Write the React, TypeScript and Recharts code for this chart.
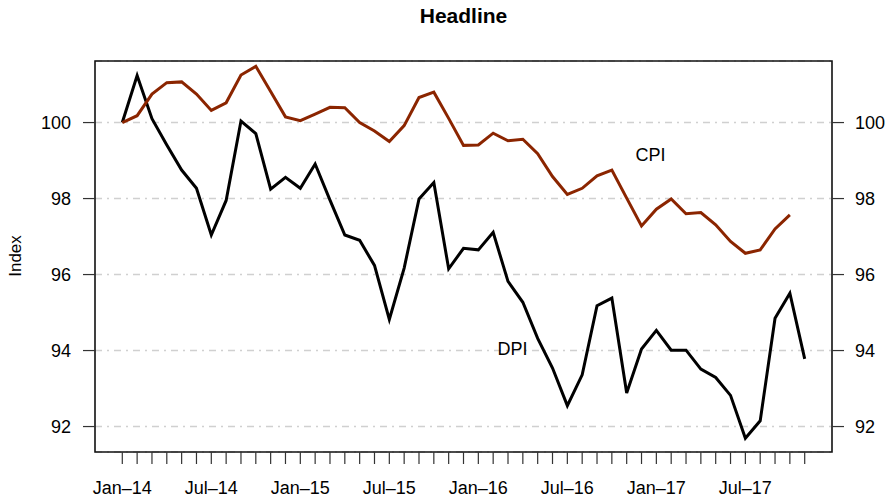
import {
  CartesianGrid,
  Line,
  LineChart,
  ReferenceArea,
  ReferenceDot,
  XAxis,
  YAxis,
} from 'recharts';

const months = [
  'Jan–14', 'Feb–14', 'Mar–14', 'Apr–14', 'May–14', 'Jun–14', 'Jul–14', 'Aug–14', 'Sep–14', 'Oct–14', 'Nov–14', 'Dec–14',
  'Jan–15', 'Feb–15', 'Mar–15', 'Apr–15', 'May–15', 'Jun–15', 'Jul–15', 'Aug–15', 'Sep–15', 'Oct–15', 'Nov–15', 'Dec–15',
  'Jan–16', 'Feb–16', 'Mar–16', 'Apr–16', 'May–16', 'Jun–16', 'Jul–16', 'Aug–16', 'Sep–16', 'Oct–16', 'Nov–16', 'Dec–16',
  'Jan–17', 'Feb–17', 'Mar–17', 'Apr–17', 'May–17', 'Jun–17', 'Jul–17', 'Aug–17', 'Sep–17', 'Oct–17', 'Nov–17',
];

const labeledMonths = ['Jan–14', 'Jul–14', 'Jan–15', 'Jul–15', 'Jan–16', 'Jul–16', 'Jan–17', 'Jul–17'];

const dpi = [
  100.0, 101.24, 100.1, 99.41, 98.75, 98.27, 97.04, 97.95, 100.04, 99.71, 98.25, 98.56,
  98.27, 98.91, 97.96, 97.04, 96.9, 96.24, 94.82, 96.17, 97.99, 98.42, 96.15, 96.69,
  96.65, 97.11, 95.82, 95.27, 94.32, 93.54, 92.55, 93.36, 95.18, 95.38, 92.88, 94.04,
  94.53, 94.01, 94.01, 93.51, 93.29, 92.82, 91.69, 92.15, 94.85, 95.51, 93.78,
];

const cpi = [
  100.0, 100.18, 100.75, 101.05, 101.07, 100.75, 100.32, 100.52, 101.25, 101.48, 100.82, 100.15,
  100.05, 100.22, 100.4, 100.39, 100.0, 99.78, 99.5, 99.92, 100.66, 100.8, 100.11, 99.4,
  99.41, 99.72, 99.52, 99.56, 99.18, 98.58, 98.11, 98.27, 98.6, 98.75, 98.01, 97.28,
  97.72, 97.99, 97.6, 97.63, 97.31, 96.87, 96.56, 96.65, 97.2, 97.57,
];

const yTicks = [92, 94, 96, 98, 100];

// where the series names sit, in data units (month index, index value)
const seriesLabels = [
  { name: 'CPI', month: 35.6, value: 99.15 },
  { name: 'DPI', month: 26.3, value: 94.04 },
];

const data = months.map((m, i) => ({
  idx: i,
  month: m,
  dpi: dpi[i] ?? null,
  cpi: cpi[i] ?? null,
}));

const xDomain = [-1.84, 47.84];
const yDomain = [91.33, 101.62];
const font = '"Liberation Sans", Arial, Helvetica, sans-serif';
const tickStyle = { fontSize: 18, fill: '#000', fontFamily: font };

export default function App() {
  return (
    <div style={{ position: 'absolute', left: 0, top: 0, width: 890, height: 498, background: '#fff' }}>
      <div
        style={{
          position: 'absolute',
          left: 95,
          width: 737,
          top: 4,
          lineHeight: '24px',
          textAlign: 'center',
          fontFamily: font,
          fontWeight: 'bold',
          fontSize: 21,
        }}
      >
        Headline
      </div>
      <div
        style={{
          position: 'absolute',
          left: 16,
          top: 256,
          transform: 'translate(-50%, -50%) rotate(-90deg)',
          fontFamily: font,
          fontSize: 17,
          whiteSpace: 'nowrap',
        }}
      >
        Index
      </div>
      <LineChart width={890} height={498} data={data} margin={{ top: 61, right: 8, bottom: 0, left: 35 }}>
        <CartesianGrid
          yAxisId="left"
          vertical={false}
          stroke="#d0d0d0"
          strokeWidth={1.5}
          strokeDasharray="7 5 2 5"
        />
        <XAxis
          dataKey="idx"
          type="number"
          domain={xDomain}
          allowDataOverflow
          ticks={months.map((_, i) => i)}
          interval={0}
          tickFormatter={(i: number) => (labeledMonths.includes(months[i]) ? months[i] : '')}
          height={46}
          axisLine={false}
          tickSize={12}
          tickMargin={17}
          tickLine={{ stroke: '#333', strokeWidth: 1.2 }}
          tick={tickStyle}
        />
        <YAxis
          yAxisId="left"
          domain={yDomain}
          allowDataOverflow
          ticks={yTicks}
          width={60}
          axisLine={false}
          tickSize={12}
          tickMargin={12}
          tickLine={{ stroke: '#333', strokeWidth: 1.2 }}
          tick={tickStyle}
        />
        <YAxis
          yAxisId="right"
          orientation="right"
          domain={yDomain}
          allowDataOverflow
          ticks={yTicks}
          width={50}
          axisLine={false}
          tickSize={12}
          tickMargin={11}
          tickLine={{ stroke: '#333', strokeWidth: 1.2 }}
          tick={tickStyle}
        />
        <Line
          yAxisId="left"
          dataKey="dpi"
          stroke="#000"
          strokeWidth={3}
          dot={false}
          isAnimationActive={false}
        />
        <Line
          yAxisId="left"
          dataKey="cpi"
          stroke="#8B2500"
          strokeWidth={3}
          dot={false}
          isAnimationActive={false}
        />
        {seriesLabels.map((s) => (
          <ReferenceDot
            key={s.name}
            yAxisId="left"
            x={s.month}
            y={s.value}
            r={0}
            shape={(p: any) => (
              <text
                x={p.cx}
                y={p.cy}
                textAnchor="middle"
                dominantBaseline="central"
                fontSize={18}
                fontFamily={font}
                fill="#000"
              >
                {s.name}
              </text>
            )}
          />
        ))}
        <ReferenceArea
          yAxisId="left"
          x1={xDomain[0]}
          x2={xDomain[1]}
          y1={yDomain[0]}
          y2={yDomain[1]}
          fill="none"
          stroke="#111"
          strokeWidth={1.6}
          ifOverflow="visible"
        />
      </LineChart>
    </div>
  );
}
